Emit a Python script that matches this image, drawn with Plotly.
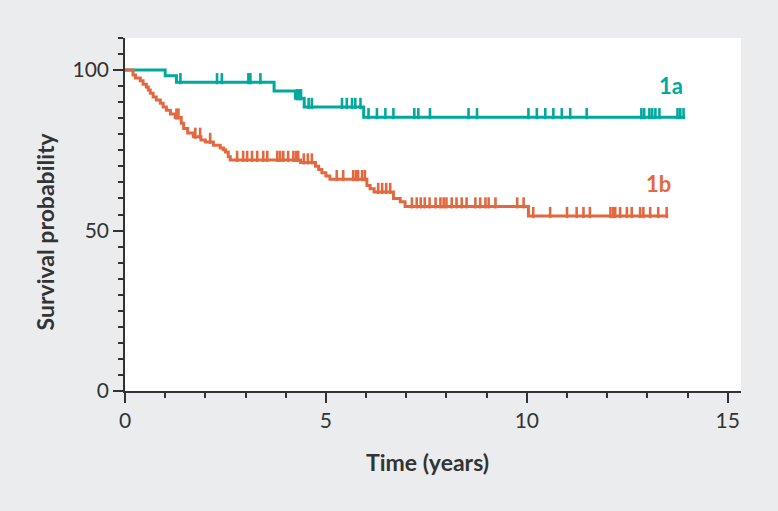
import numpy as np
import plotly.graph_objects as go

# ---- data ----
teal_event_times = [1.0, 1.28, 3.71, 4.24, 4.46, 5.94]
teal_event_surv = [98.2, 96.2, 93.5, 91.2, 88.5, 85.3]
teal_end = 13.94
teal_censor = [1.38, 2.29, 2.41, 3.07, 3.12, 3.37, 4.28, 4.33, 4.38, 4.57, 4.65,
               5.4, 5.52, 5.65, 5.73, 5.86, 6.06, 6.27, 6.48, 6.68, 7.2, 7.3,
               7.59, 8.55, 8.76, 10.04, 10.25, 10.46, 10.66, 10.87, 11.08, 11.49,
               12.85, 12.92, 13.05, 13.12, 13.2, 13.3, 13.75, 13.82, 13.9]

orange_event_times = [0.2, 0.26, 0.38, 0.45, 0.53, 0.58, 0.63, 0.7, 0.78, 0.88,
                      0.95, 1.03, 1.13, 1.25, 1.4, 1.46, 1.56, 1.7, 1.89, 2.0,
                      2.2, 2.37, 2.45, 2.5, 2.57, 2.62, 4.37, 4.74, 4.82, 4.9,
                      5.0, 5.1, 6.02, 6.1, 6.2, 6.68, 6.85, 6.97, 10.04]
orange_event_surv = [98.5, 97.5, 96.7, 95.6, 94.7, 93.8, 92.8, 91.6, 90.7, 89.7,
                     88.5, 87.5, 86.3, 85.2, 83.4, 81.8, 80.4, 79.2, 78.2, 77.6,
                     76.6, 75.7, 75.2, 74.5, 73.0, 72.0, 71.2, 70.0, 69.0, 68.0,
                     67.0, 66.0, 64.0, 63.0, 62.0, 60.0, 59.0, 57.5, 54.5]
orange_end = 13.52
orange_censor = [1.28, 1.33, 1.75, 1.87, 2.12, 2.79, 2.94, 3.04, 3.16, 3.29, 3.44,
                 3.54, 3.79, 3.86, 3.94, 4.06, 4.19, 4.26, 4.31, 4.45, 4.55, 4.65,
                 5.27, 5.43, 5.68, 5.75, 5.8, 5.9, 5.97, 6.3, 6.4, 6.5, 6.6,
                 7.14, 7.26, 7.36, 7.46, 7.58, 7.73, 7.85, 7.93, 8.0, 8.13, 8.25,
                 8.38, 8.5, 8.72, 8.84, 8.97, 9.05, 9.22, 9.76, 9.92,
                 10.16, 10.58, 11.0, 11.24, 11.41, 11.57, 12.08, 12.15, 12.2,
                 12.32, 12.49, 12.61, 12.82, 12.9, 13.07, 13.27, 13.48]

x_ticks = [0, 5, 10, 15]
y_ticks = [0, 50, 100]

TEAL = "#00a99d"
ORANGE = "#e2693f"
BG = "#ebecee"
AX = "#333333"
FONT = "Lato, Open Sans, Arial"


def step_xy(times, surv, end):
    xs = [0.0] + list(times) + [end]
    ys = [100.0] + list(surv) + [surv[-1]]
    return xs, ys


def surv_at(times, surv, t):
    idx = np.searchsorted(np.array(times), np.array(t), side="right")
    vals = np.concatenate([[100.0], np.array(surv)])
    return vals[idx]


fig = go.Figure()
y_per_px = 110 / 353.0
mark_off = 3.6 * y_per_px

for times, surv, end, cens, col in [
    (teal_event_times, teal_event_surv, teal_end, teal_censor, TEAL),
    (orange_event_times, orange_event_surv, orange_end, orange_censor, ORANGE),
]:
    xs, ys = step_xy(times, surv, end)
    fig.add_trace(go.Scatter(x=xs, y=ys, mode="lines", line=dict(color=col, width=3, shape="hv"),
                             hoverinfo="skip", showlegend=False))
    cy = surv_at(times, surv, cens) + mark_off
    fig.add_trace(go.Scatter(x=cens, y=cy, mode="markers",
                             marker=dict(symbol="line-ns", size=8, line=dict(color=col, width=2.6)),
                             hoverinfo="skip", showlegend=False))

fig.add_annotation(x=13.59, y=95.3, text="<b>1a</b>", showarrow=False,
                   font=dict(family=FONT, size=22, color=TEAL))
fig.add_annotation(x=13.27, y=64.8, text="<b>1b</b>", showarrow=False,
                   font=dict(family=FONT, size=22, color=ORANGE))
fig.add_annotation(xref="paper", yref="paper", x=-0.1293, y=0.453, text="<b>Survival probability</b>",
                   textangle=-90, showarrow=False, xanchor="center", yanchor="middle",
                   font=dict(family=FONT, size=23, color=AX))
fig.add_annotation(xref="paper", yref="paper", x=0.4905, y=-0.201, text="<b>Time (years)</b>",
                   showarrow=False, xanchor="center", yanchor="middle",
                   font=dict(family=FONT, size=23, color=AX))

fig.update_layout(
    width=778, height=511,
    margin=dict(l=124.7, r=37, t=38, b=120),
    paper_bgcolor=BG, plot_bgcolor="white",
    font=dict(family=FONT, color=AX),
    xaxis=dict(range=[0, 15.33], tickvals=x_ticks, ticks="outside", ticklen=10, tickwidth=1.5,
               tickcolor=AX, showline=True, linecolor=AX, linewidth=1.5, showgrid=False,
               zeroline=False, tickfont=dict(size=21, color=AX),
               minor=dict(dtick=1, tick0=0, ticks="outside", ticklen=5, tickwidth=1.5, tickcolor=AX,
                          showgrid=False)),
    yaxis=dict(range=[0, 110], tickvals=y_ticks, ticks="outside", ticklen=10, tickwidth=1.5,
               tickcolor=AX, showline=True, linecolor=AX, linewidth=1.5, showgrid=False,
               zeroline=False, tickfont=dict(size=21, color=AX),
               minor=dict(dtick=5, tick0=0, ticks="outside", ticklen=5, tickwidth=1.5, tickcolor=AX,
                          showgrid=False)),
)

fig.write_html("out.html", config={"displayModeBar": False},
               post_script="document.body.style.margin='0';document.body.style.background='%s';" % BG)
